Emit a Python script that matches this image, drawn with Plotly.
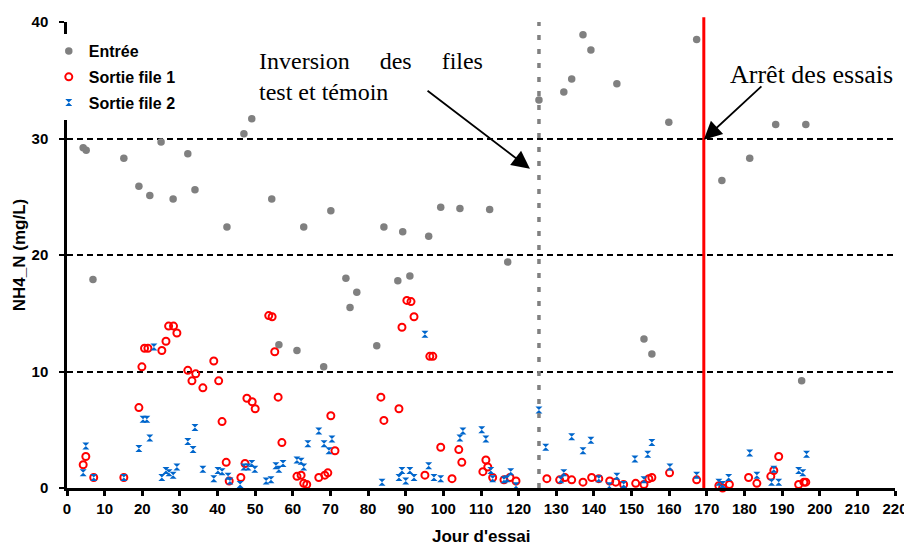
import plotly.graph_objects as go

# ---- data ----
entree_day = [4.3, 5.1, 6.9, 15.1, 19.1, 22.0, 25.0, 28.2, 32.1, 34.0, 42.5, 47.0, 49.1, 54.4,
              56.3, 61.1, 62.9, 68.2, 70.1, 74.1, 75.2, 77.0, 82.3, 84.2, 87.9, 89.2, 91.1, 96.1,
              99.3, 104.4, 112.3, 117.1, 125.4, 132.0, 134.1, 137.1, 139.2, 146.1, 153.3, 155.4,
              159.9, 167.3, 174.0, 181.4, 188.3, 195.2, 196.3]
entree_val = [29.2, 29.0, 17.9, 28.3, 25.9, 25.1, 29.7, 24.8, 28.7, 25.6, 22.4, 30.4, 31.7, 24.8,
              12.3, 11.8, 22.4, 10.4, 23.8, 18.0, 15.5, 16.8, 12.2, 22.4, 17.8, 22.0, 18.2, 21.6,
              24.1, 24.0, 23.9, 19.4, 33.3, 34.0, 35.1, 38.9, 37.6, 34.7, 12.8, 11.5,
              31.4, 38.5, 26.4, 28.3, 31.2, 9.2, 31.2]

s1_day = [4.3, 5.0, 7.1, 15.1, 19.1, 19.9, 20.6, 21.5, 25.2, 26.3, 27.0, 28.3, 29.2, 32.1, 33.2,
          34.2, 36.1, 39.0, 40.3, 41.2, 42.3, 43.1, 46.2, 47.3, 47.8, 49.2, 50.0, 53.6, 54.5, 55.2,
          56.1, 57.1, 61.1, 62.2, 62.9, 63.7, 66.9, 68.5, 69.3, 70.1, 71.2, 83.4, 84.2, 88.2, 89.0,
          90.3, 91.4, 92.2, 95.1, 96.4, 97.2, 99.3, 102.3, 104.1, 104.9, 110.5, 111.3, 111.8, 113.1,
          116.1, 117.7, 119.3, 127.5, 130.9, 132.3, 134.1, 137.1, 139.4, 141.3, 144.2, 145.8, 147.9,
          151.1, 153.3, 154.6, 155.4, 160.1, 167.3, 173.2, 174.2, 176.0, 181.1, 183.3, 187.0, 187.8,
          189.1, 194.4, 195.8, 196.3]
s1_val = [2.0, 2.7, 0.9, 0.9, 6.9, 10.4, 12.0, 12.0, 11.8, 12.6, 13.9, 13.9, 13.3, 10.1, 9.2,
          9.8, 8.6, 10.9, 9.2, 5.7, 2.2, 0.6, 0.9, 2.1, 7.7, 7.4, 6.8, 14.8, 14.7, 11.7,
          7.8, 3.9, 1.0, 1.1, 0.4, 0.3, 0.9, 1.1, 1.3, 6.2, 3.2, 7.8, 5.8, 6.8, 13.8,
          16.1, 16.0, 14.7, 1.1, 11.3, 11.3, 3.5, 0.8, 3.3, 2.2, 1.4, 2.4, 1.8, 0.9,
          0.7, 0.9, 0.6, 0.8, 0.7, 0.9, 0.7, 0.5, 0.9, 0.8, 0.6, 0.5, 0.3,
          0.4, 0.3, 0.8, 0.9, 1.3, 0.7, 0.2, 0.0, 0.3, 0.9, 0.4, 1.0, 1.5,
          2.7, 0.3, 0.5, 0.5]

s2_day = [4.3, 5.0, 7.1, 15.1, 19.1, 20.2, 21.2, 22.0, 23.1, 25.2, 26.3, 27.1, 28.2, 29.2, 32.1,
          33.5, 34.0, 36.1, 39.0, 40.1, 41.2, 42.8, 43.3, 46.0, 47.0, 48.1, 49.1, 49.9, 52.9, 54.2,
          55.5, 56.3, 57.4, 61.1, 62.2, 62.9, 64.0, 66.9, 68.3, 69.6, 70.4, 83.7, 88.2, 89.0, 90.0,
          91.1, 92.2, 95.1, 96.1, 97.5, 99.3, 104.4, 105.2, 110.2, 111.3, 112.6, 113.1, 116.1, 116.9,
          117.9, 119.3, 125.4, 127.2, 131.2, 132.0, 134.1, 137.1, 139.2, 141.3, 144.1, 146.1, 147.9,
          150.9, 153.3, 154.3, 155.4, 160.2, 167.3, 173.2, 174.2, 175.8, 181.4, 183.3, 187.2, 187.8,
          189.1, 194.4, 195.5, 196.5]
s2_val = [1.3, 3.6, 0.9, 0.9, 3.4, 5.9, 5.9, 4.3, 12.1, 0.9, 1.5, 1.3, 1.1, 1.8, 4.0,
          3.3, 5.2, 1.6, 0.8, 1.5, 1.4, 1.0, 0.6, 0.3, 1.8, 1.8, 2.1, 1.6, 0.6, 0.7,
          1.9, 1.6, 2.1, 2.4, 2.3, 1.8, 3.8, 4.9, 3.8, 3.2, 4.2, 0.5, 0.9, 1.5, 0.6,
          1.5, 0.9, 13.2, 1.9, 0.9, 0.8, 4.3, 4.9, 5.0, 4.2, 1.5, 0.8, 0.7, 0.8,
          1.4, 0.2, 6.7, 3.5, 0.7, 1.3, 4.4, 3.2, 4.1, 0.8, 0.2, 1.0, 0.3,
          2.5, 0.7, 2.9, 3.9, 1.8, 1.1, 0.5, 0.3, 0.9, 3.0, 1.1, 0.5, 1.6,
          0.5, 1.5, 1.3, 2.9]

x_ticks = list(range(0, 221, 10))
y_ticks = [0, 10, 20, 30, 40]
X_MAX = 220
Y_MAX = 40
inversion_day = 125.4
stop_day = 169.2

GRAY = "#808080"
RED = "#FF0000"
BLUE = "#0066CC"
BOLD = "Liberation Sans"
SERIF = "Liberation Serif"

fig = go.Figure()
fig.add_trace(go.Scatter(x=entree_day, y=entree_val, mode="markers", name="Entrée",
                         legendgroup="a",
                         marker=dict(symbol="circle", size=7.5, color=GRAY, line=dict(width=0)),
                         cliponaxis=False))
fig.add_trace(go.Scatter(x=s1_day, y=s1_val, mode="markers", name="Sortie file 1",
                         legendgroup="b",
                         marker=dict(symbol="circle-open", size=7, color=RED, line=dict(width=2, color=RED)),
                         cliponaxis=False))
fig.add_trace(go.Scatter(x=s2_day, y=s2_val, mode="markers", name="Sortie file 2",
                         legendgroup="c",
                         marker=dict(symbol="hourglass", size=7, color=BLUE, line=dict(width=0)),
                         cliponaxis=False))

# event lines (paper x computed from the data axis range)
fig.add_shape(type="line", xref="paper", yref="paper",
              x0=inversion_day / X_MAX, x1=inversion_day / X_MAX, y0=0, y1=1,
              line=dict(color=GRAY, width=3.5, dash="5px,9px"), layer="above")
fig.add_shape(type="line", xref="paper", yref="paper",
              x0=stop_day / X_MAX, x1=stop_day / X_MAX, y0=0, y1=1.01,
              line=dict(color=RED, width=3), layer="above")

# annotations
nb = "\u00a0" * 5
fig.add_annotation(x=50.6, y=35.3, xref="x", yref="y", xanchor="left", yanchor="middle",
                   align="left", showarrow=False,
                   text="Inversion" + nb + "des" + nb + "files<br>test et témoin",
                   font=dict(family=SERIF, size=24, color="black"))
fig.add_annotation(x=123.0, y=27.4, ax=95.4, ay=34.2, xref="x", yref="y", axref="x", ayref="y",
                   text="", showarrow=True, arrowhead=2, arrowsize=2, arrowwidth=1.8, arrowcolor="black")
fig.add_annotation(x=175.6, y=35.5, xref="x", yref="y", xanchor="left", yanchor="middle",
                   showarrow=False, text="Arrêt des essais",
                   font=dict(family=SERIF, size=26, color="black"))
fig.add_annotation(x=stop_day, y=29.9, ax=184.9, ay=34.6, xref="x", yref="y", axref="x", ayref="y",
                   text="", showarrow=True, arrowhead=2, arrowsize=2, arrowwidth=1.8, arrowcolor="black")

# x-axis title placed as paper annotation below the tick labels
fig.add_annotation(x=0.5, y=-0.104, xref="paper", yref="paper", xanchor="center", yanchor="middle",
                   showarrow=False, text="Jour d'essai",
                   font=dict(family=BOLD, size=17, color="black", weight="bold"))

fig.update_layout(
    width=904, height=539,
    margin=dict(l=59, r=17, t=14, b=59, autoexpand=False),
    paper_bgcolor="white", plot_bgcolor="white",
    showlegend=True,
    legend=dict(x=-0.022, y=0.974, xanchor="left", yanchor="top",
                bgcolor="white", borderwidth=0, traceorder="grouped", tracegroupgap=2,
                font=dict(family=BOLD, size=16, color="black", weight="bold"),
                itemsizing="trace"),
    xaxis=dict(range=[0, X_MAX], tickvals=x_ticks, ticktext=[str(t) for t in x_ticks],
               automargin=False,
               showgrid=False, zeroline=False, showline=True, linecolor="black", linewidth=2.5,
               ticks="outside", ticklen=5, tickwidth=2.5, tickcolor="black",
               tickfont=dict(family=BOLD, size=15, color="black", weight="bold")),
    yaxis=dict(range=[0, Y_MAX], tickvals=y_ticks, ticktext=[str(t) for t in y_ticks],
               automargin=False,
               showgrid=True, gridcolor="black", gridwidth=2, griddash="6px,4px",
               zeroline=False, showline=True, linecolor="black", linewidth=2.5,
               ticks="outside", ticklen=5, tickwidth=2, tickcolor="black",
               ticklabelstandoff=8,
               tickfont=dict(family=BOLD, size=15, color="black", weight="bold"),
               title=dict(text="NH4_N (mg/L)", standoff=2,
                          font=dict(family=BOLD, size=17, color="black", weight="bold"))),
)

fig.write_html("out.html")
